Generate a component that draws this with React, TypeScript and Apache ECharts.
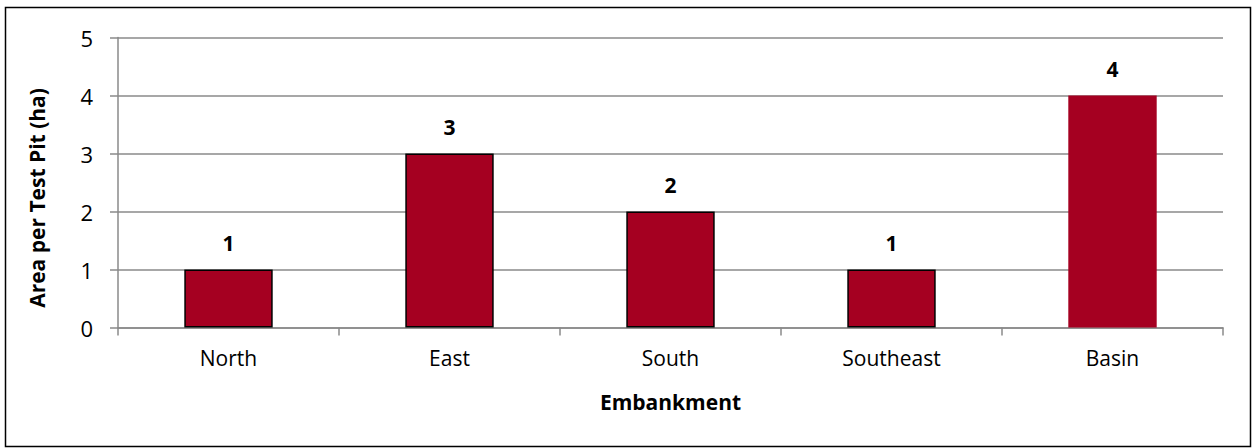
import React, { useEffect, useRef } from "react";
import * as echarts from "echarts";

const categories = ["North", "East", "South", "Southeast", "Basin"];
const values = [1, 3, 2, 1, 4];
const borderedBars = [true, true, true, true, false];
const yTicks = [0, 1, 2, 3, 4, 5];

const FONT = "'Open Sans', 'Noto Sans', sans-serif";

export default function App() {
  const ref = useRef<HTMLDivElement>(null);
  useEffect(() => {
    if (!ref.current) return;
    const chart = echarts.init(ref.current, undefined, { renderer: "svg" });
    chart.setOption({
      animation: false,
      backgroundColor: "#ffffff",
      grid: { left: 118, right: 30, top: 37.5, bottom: 120.5, containLabel: false },
      xAxis: {
        type: "category",
        data: categories,
        name: "Embankment",
        nameLocation: "middle",
        nameGap: 64,
        nameTextStyle: { fontFamily: FONT, fontSize: 21, fontWeight: "bold", color: "#000" },
        axisLine: { lineStyle: { color: "#8a8a8a", width: 1.5 } },
        axisTick: { show: true, length: 8, alignWithLabel: false, lineStyle: { color: "#8a8a8a", width: 1.5 } },
        axisLabel: { margin: 20, fontFamily: FONT, fontSize: 21, color: "#000" },
      },
      yAxis: {
        type: "value",
        min: yTicks[0],
        max: yTicks[yTicks.length - 1],
        interval: 1,
        axisLine: { show: true, lineStyle: { color: "#8a8a8a", width: 1.5 } },
        axisTick: { show: true, length: 8, lineStyle: { color: "#8a8a8a", width: 1.5 } },
        splitLine: { show: true, lineStyle: { color: "#8a8a8a", width: 1.5 } },
        axisLabel: { margin: 25, fontFamily: FONT, fontSize: 22, color: "#000" },
      },
      graphic: [
        {
          type: "rect",
          shape: { x: 5.5, y: 7.5, width: 1245, height: 439 },
          style: { fill: "none", stroke: "#000", lineWidth: 1.5 },
          silent: true,
        },
        {
          type: "text",
          x: 37,
          y: 198,
          rotation: Math.PI / 2,
          style: {
            text: "Area per Test Pit (ha)",
            fontFamily: FONT,
            fontSize: 21,
            fontWeight: "bold",
            fill: "#000",
            align: "center",
            verticalAlign: "middle",
          },
        },
      ],
      series: [
        {
          type: "bar",
          barWidth: "40%",
          data: values.map((v, i) => ({
            value: v,
            itemStyle: {
              color: "#a50021",
              borderColor: "#000",
              borderWidth: borderedBars[i] ? 1.5 : 0,
            },
          })),
          label: {
            show: true,
            position: "top",
            distance: 16,
            fontFamily: FONT,
            fontSize: 21,
            fontWeight: "bold",
            color: "#000",
          },
        },
      ],
    });
    return () => chart.dispose();
  }, []);
  return (
    <div
      ref={ref}
      style={{ position: "fixed", left: 0, top: 0, width: 1253, height: 448 }}
    />
  );
}
